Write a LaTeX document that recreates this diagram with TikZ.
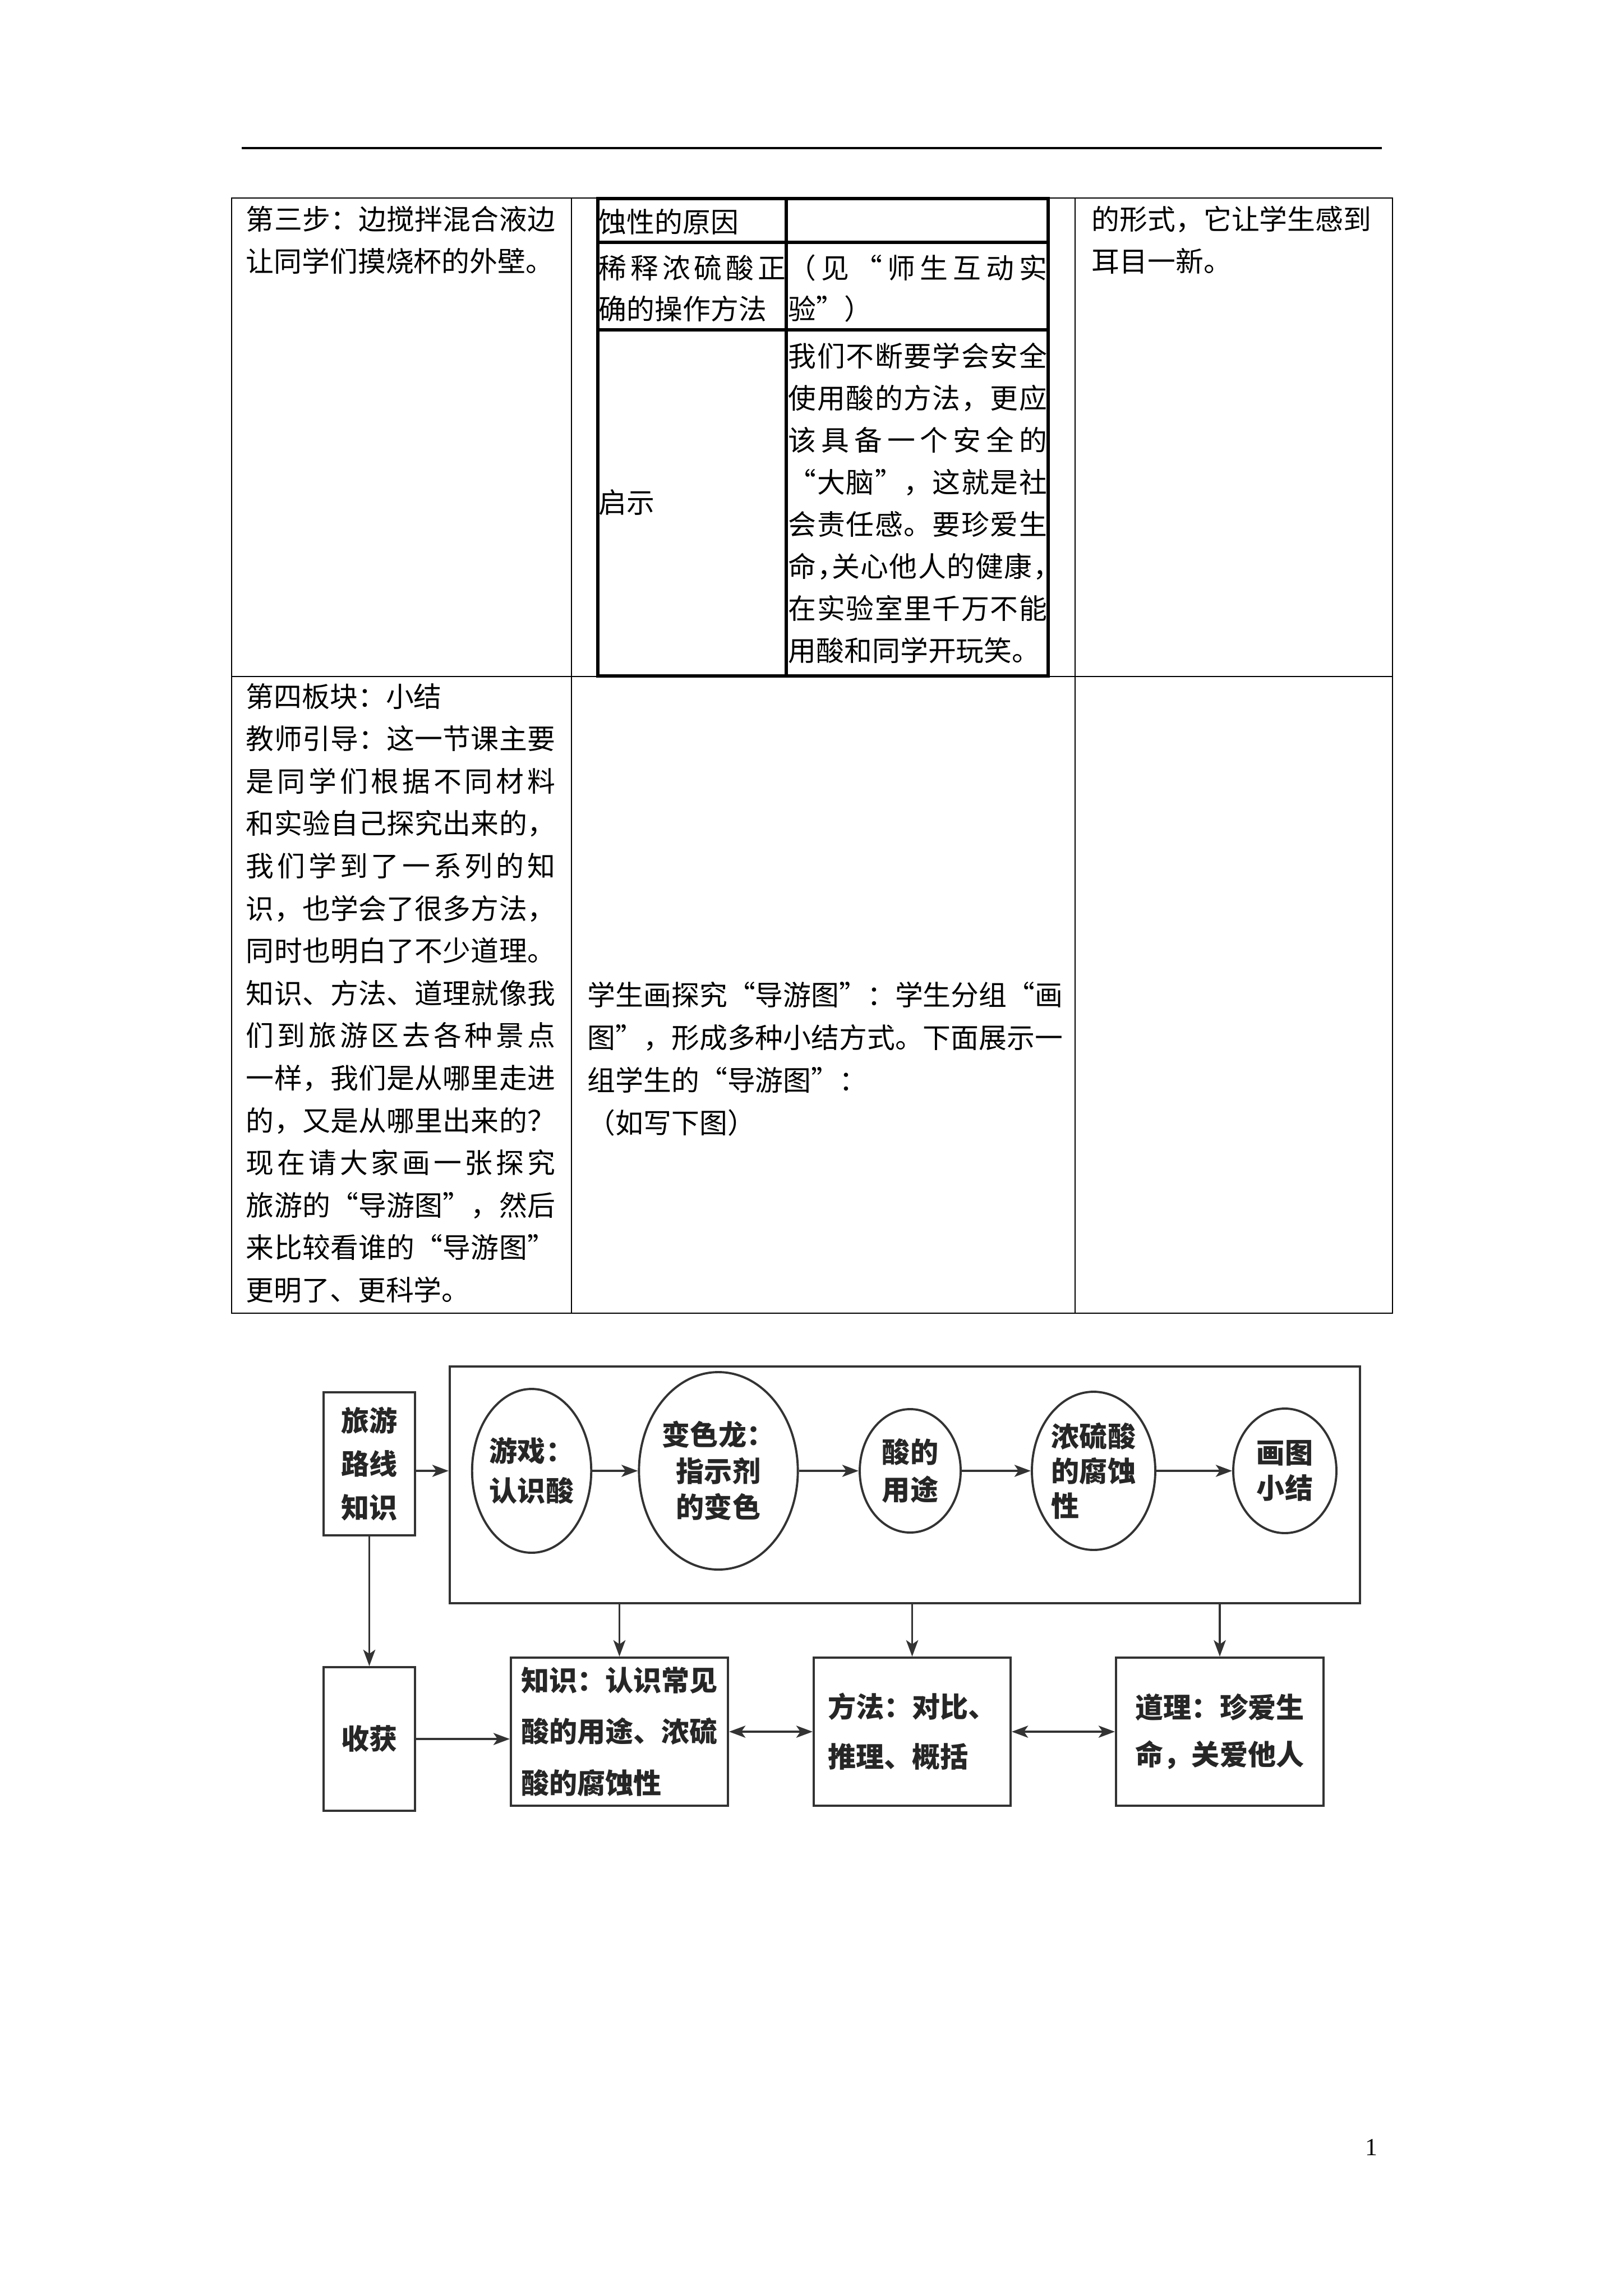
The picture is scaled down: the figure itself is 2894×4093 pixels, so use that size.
\documentclass[tikz,border=0pt]{standalone}
\usepackage{fontspec}
\setmainfont{Liberation Serif}
\newfontfamily\cjk{Noto Sans CJK SC}
\usetikzlibrary{arrows.meta,shapes.geometric}
\newlength\upx
\setlength\upx{0.2057pt}
\makeatletter
\newcommand\spr[2]{\hbox to #1\upx{\@tfor\@ch:=#2\do{\@ch\hfil}\unskip}}
\makeatother
\newcommand\hc{\makebox[.5em][l]{，}}
\newcommand\dfont[1]{\cjk\bfseries\fontsize{10.3pt}{#1}\selectfont}
\tikzset{
 tx/.style={inner sep=0pt, anchor=base west, font=\cjk\fontsize{10.25pt}{12pt}\selectfont},
 thinl/.style={line width=0.45pt},
 thickl/.style={line width=1.2pt},
 dline/.style={draw=black!80, line width=0.8pt},
 dbox/.style={dline, rectangle, inner sep=0pt, text=black!85},
 dell/.style={dline, ellipse, inner sep=0pt, text=black!85, align=center},
 arr/.style={dline, -{Stealth[length=6pt,width=4.4pt,inset=1.5pt]}},
 darr/.style={dline, {Stealth[length=6pt,width=4.4pt,inset=1.5pt]}-{Stealth[length=6pt,width=4.4pt,inset=1.5pt]}},
}
\begin{document}
\begin{tikzpicture}[x=0.2057pt,y=-0.2057pt]
\fill[white] (0,0) rectangle (2894,4093);
\useasboundingbox (0,0) rectangle (2894,4093);
% header rule
\draw[line width=0.7pt] (431,264) -- (2464,264);
% outer table
\draw[thinl] (413,353) rectangle (2483,2341);
\draw[thinl] (1019,353) -- (1019,2341);
\draw[thinl] (1917,353) -- (1917,2341);
\draw[thinl] (413,1206) -- (2483,1206);
% inner table
\draw[thickl] (1066,354) rectangle (1869,1205);
\draw[thickl] (1402,354) -- (1402,1205);
\draw[thickl] (1066,432) -- (1869,432);
\draw[thickl] (1066,588) -- (1869,588);
% row 1 texts
\node[tx] (a1) at (438,409) {\spr{551}{第三步：边搅拌混合液边}};
\node[tx] (a2) at (438,484) {让同学们摸烧杯的外壁。};
\node[tx] (c1) at (1946,409) {的形式，它让学生感到};
\node[tx] (c2) at (1946,484) {耳目一新。};
\node[tx] (i1) at (1067,414) {蚀性的原因};
\node[tx] (i2) at (1067,496) {\spr{333}{稀释浓硫酸正}};
\node[tx] (i3) at (1067,569) {确的操作方法};
\node[tx] (i4) at (1405,496) {\spr{461}{（见“师生互动实}};
\node[tx] (i5) at (1405,569) {验”）};
\node[tx] (i6) at (1067,914) {启示};
\node[tx] (j1) at (1405,653) {\spr{461}{我们不断要学会安全}};
\node[tx] (j2) at (1405,728) {\spr{461}{使用酸的方法，更应}};
\node[tx] (j3) at (1405,803) {\spr{461}{该具备一个安全的}};
\node[tx] (j4) at (1405,878) {\spr{461}{“大脑”，这就是社}};
\node[tx] (j5) at (1405,953) {\spr{461}{会责任感。要珍爱生}};
\node[tx] (j6) at (1405,1028) {\spr{461}{命\hc 关心他人的健康\hc}};
\node[tx] (j7) at (1405,1103) {\spr{461}{在实验室里千万不能}};
\node[tx] (j8) at (1405,1178) {用酸和同学开玩笑。};
% row 2 left column
\node[tx] (b1) at (438,1260) {第四板块：小结};
\node[tx] (b2) at (438,1335.6) {\spr{551}{教师引导：这一节课主要}};
\node[tx] (b3) at (438,1411.2) {\spr{551}{是同学们根据不同材料}};
\node[tx] (b4) at (438,1486.8) {\spr{551}{和实验自己探究出来的，}};
\node[tx] (b5) at (438,1562.4) {\spr{551}{我们学到了一系列的知}};
\node[tx] (b6) at (438,1638) {\spr{551}{识，也学会了很多方法，}};
\node[tx] (b7) at (438,1713.6) {\spr{551}{同时也明白了不少道理。}};
\node[tx] (b8) at (438,1789.2) {\spr{551}{知识、方法、道理就像我}};
\node[tx] (b9) at (438,1864.8) {\spr{551}{们到旅游区去各种景点}};
\node[tx] (b10) at (438,1940.4) {\spr{551}{一样，我们是从哪里走进}};
\node[tx] (b11) at (438,2016) {\spr{551}{的，又是从哪里出来的？}};
\node[tx] (b12) at (438,2091.6) {\spr{551}{现在请大家画一张探究}};
\node[tx] (b13) at (438,2167.2) {\spr{551}{旅游的“导游图”，然后}};
\node[tx] (b14) at (438,2242.8) {\spr{551}{来比较看谁的“导游图”}};
\node[tx] (b15) at (438,2318.4) {更明了、更科学。};
% row 2 middle column
\node[tx] (m1) at (1047,1792) {\spr{843}{学生画探究“导游图”：学生分组“画}};
\node[tx] (m2) at (1047,1868) {\spr{843}{图”，形成多种小结方式。下面展示一}};
\node[tx] (m3) at (1047,1944) {组学生的“导游图”：};
\node[tx] (m4) at (1047,2020) {（如写下图）};
% diagram
\node[dbox, minimum width={163*\upx}, minimum height={255*\upx}, align=center, font=\dfont{15.9pt}] (LB) at (658.5,2609.5) {旅游\\路线\\知识};
\node[dbox, minimum width={1623*\upx}, minimum height={422*\upx}] (OB) at (1613.5,2647) {};
\node[dell, minimum width={206*\upx}, minimum height={292*\upx}, font=\dfont{14.6pt}] (E1) at (948,2622) {游戏：\\认识酸};
\node[dell, minimum width={268*\upx}, minimum height={352*\upx}, font=\dfont{13.3pt}] (E2) at (1281,2622) {变色龙：\\指示剂\\的变色};
\node[dell, minimum width={180*\upx}, minimum height={220*\upx}, font=\dfont{13.6pt}] (E3) at (1623,2622) {酸的\\用途};
\node[dell, minimum width={220*\upx}, minimum height={282*\upx}, align=left, font=\dfont{12.8pt}] (E4) at (1950,2622) {浓硫酸\\的腐蚀\\性};
\node[dell, minimum width={184*\upx}, minimum height={222*\upx}, font=\dfont{13pt}] (E5) at (2291,2622) {画图\\小结};
\node[dbox, minimum width={163*\upx}, minimum height={256*\upx}, font=\dfont{13pt}] (SH) at (658.5,3100) {收获};
\node[dbox, minimum width={387*\upx}, minimum height={264*\upx}, align=left, font=\dfont{18.9pt}] (ZS) at (1104.5,3087) {知识：认识常见\\酸的用途、浓硫\\酸的腐蚀性};
\node[dbox, minimum width={351*\upx}, minimum height={264*\upx}, align=left, font=\dfont{18.3pt}] (FF) at (1626.5,3087) {方法：对比、\\推理、概括};
\node[dbox, minimum width={370*\upx}, minimum height={264*\upx}, align=left, font=\dfont{17.3pt}] (DL) at (2175,3087) {道理：珍爱生\\命，关爱他人};
% connectors
\draw[arr] (LB.east |- E1.center) -- (OB.west |- E1.center);
\draw[arr] (E1.east) -- (E2.west);
\draw[arr] (E2.east) -- (E3.west);
\draw[arr] (E3.east) -- (E4.west);
\draw[arr] (E4.east) -- (E5.west);
\draw[arr] (LB.south) -- (SH.north);
\draw[arr] (OB.south -| ZS.north) -- (ZS.north);
\draw[arr] (OB.south -| FF.north) -- (FF.north);
\draw[arr] (OB.south -| DL.north) -- (DL.north);
\draw[arr] (SH.east) -- (SH.east -| ZS.west);
\draw[darr] (ZS.east) -- (FF.west);
\draw[darr] (FF.east) -- (DL.west);
% page number
\node[inner sep=0pt, anchor=base, font=\fontsize{9pt}{10pt}\selectfont] (pg) at (2445,3842) {1};
\end{tikzpicture}
\end{document}
